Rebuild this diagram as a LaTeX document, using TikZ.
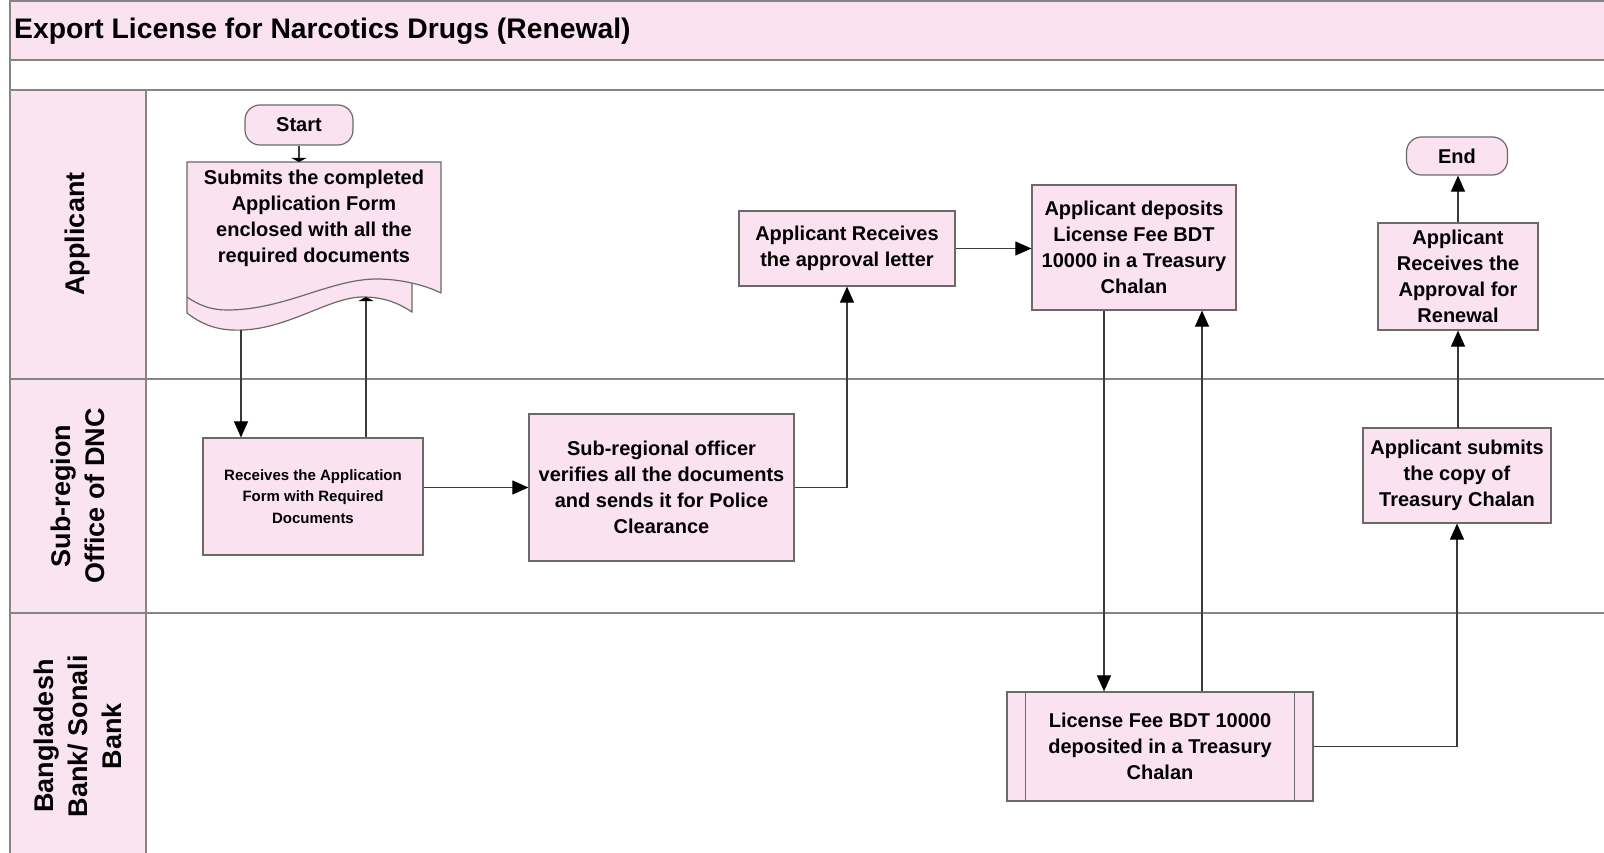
\documentclass[tikz,border=0pt]{standalone}
\usepackage{fontspec}
\setmainfont{Liberation Sans}
\usetikzlibrary{arrows.meta,calc}
\definecolor{pinkfill}{HTML}{FAE2F1}
\definecolor{lanepink}{HTML}{FBE4F2}
\definecolor{laneline}{HTML}{858585}
\definecolor{boxline}{HTML}{6A6A6A}
\definecolor{conn}{HTML}{3A3A3A}
\newcommand{\bxfont}{\fontsize{20}{26}\selectfont\bfseries}
\newcommand{\lnfont}{\fontsize{27}{34}\selectfont\bfseries}
\newcommand{\ttlfont}{\fontsize{28.3}{32}\selectfont\bfseries}
\begin{document}
\begin{tikzpicture}[x=1pt,y=-1pt,
  box/.style={draw=boxline,fill=pinkfill,line width=1.2pt,inner sep=0pt,align=center,font=\bxfont},
  term/.style={box,rounded corners=15pt},
  lanelabel/.style={rotate=90,align=center,font=\lnfont,inner sep=0pt},
  lane/.style={draw=laneline,line width=1.6pt},
  arr/.style={draw=conn,line width=1.1pt,-{Triangle[length=16pt,width=14pt,color=black]}},
  flatarr/.style={draw=conn,line width=1.1pt,-{Triangle[length=4pt,width=15pt,color=black]}},
  plain/.style={draw=conn,line width=1.1pt}]
\useasboundingbox (0,0) rectangle (1604,853);
% pool and lanes
\fill[pinkfill] (10,1) rectangle (1604,60);
\fill[lanepink] (10,90) rectangle (146,853);
\draw[lane] (1604,1) -- (10,1) -- (10,853);
\draw[lane] (10,60) -- (1604,60);
\draw[lane] (10,90) -- (1604,90);
\draw[lane] (10,379) -- (1604,379);
\draw[lane] (10,613) -- (1604,613);
\draw[lane] (146,90) -- (146,853);
\node[anchor=west,font=\ttlfont,inner sep=0pt] (title) at (14,31) {Export License for Narcotics Drugs (Renewal)};
\node[lanelabel] (lane1) at (78,234) {Applicant};
\node[lanelabel] (lane2) at (78,496) {Sub-region\\Office of DNC};
\node[lanelabel] (lane3) at (78,736) {Bangladesh\\Bank/ Sonali\\Bank};
% document shape
\fill[pinkfill] (187,162) -- (441,162) -- (441,293)
  .. controls (425,285) and (400,279) .. (377,279)
  .. controls (330,279) and (285,310) .. (227,310)
  .. controls (212,310) and (200,306) .. (187,297) -- cycle;
\fill[pinkfill] (187,290) -- (187,313)
  .. controls (205,327) and (222,331) .. (243,330)
  .. controls (290,328) and (330,297) .. (363,297)
  .. controls (385,297) and (400,304) .. (412,312)
  -- (412,270) -- (300,270) -- cycle;
\draw[draw=boxline,line width=1.2pt] (441,293) -- (441,162) -- (187,162) -- (187,313)
  .. controls (205,327) and (222,331) .. (243,330)
  .. controls (290,328) and (330,297) .. (363,297)
  .. controls (385,297) and (400,304) .. (412,312) -- (412,283);
\draw[draw=boxline,line width=1.2pt] (187,297)
  .. controls (200,306) and (212,310) .. (227,310)
  .. controls (285,310) and (330,279) .. (377,279)
  .. controls (400,279) and (425,285) .. (441,293);
\node[font=\bxfont,align=center,inner sep=0pt] (doc) at (314,218)
  {Submits the completed\\Application Form\\enclosed with all the\\required documents};
\coordinate (doctop) at (299,162);
\coordinate (docout) at (241,330);
\coordinate (docin) at (366,297);
% nodes
\node[term,minimum width=108pt,minimum height=40pt] (start) at (299,125) {Start};
\node[term,minimum width=101pt,minimum height=38pt] (end) at (1457,156) {End};
\node[box,minimum width=220pt,minimum height=117pt,font=\fontsize{15}{21.5}\selectfont\bfseries] (recv) at (313,496.5) {Receives the Application\\Form with Required\\Documents};
\node[box,minimum width=265pt,minimum height=147pt] (subreg) at (661.5,487.5) {Sub-regional officer\\verifies all the documents\\and sends it for Police\\Clearance};
\node[box,minimum width=216pt,minimum height=75pt] (letter) at (847,248.5) {Applicant Receives\\the approval letter};
\node[box,minimum width=204pt,minimum height=125pt] (deposit) at (1134,247.5) {Applicant deposits\\License Fee BDT\\10000 in a Treasury\\Chalan};
\node[box,minimum width=306pt,minimum height=109pt] (fee) at (1160,746.5) {License Fee BDT 10000\\deposited in a Treasury\\Chalan};
\draw[draw=boxline,line width=1.2pt] ([xshift=19pt]fee.north west) -- ([xshift=19pt]fee.south west)
  ([xshift=-19pt]fee.north east) -- ([xshift=-19pt]fee.south east);
\node[box,minimum width=188pt,minimum height=95pt] (submits) at (1457,475.5) {Applicant submits\\the copy of\\Treasury Chalan};
\node[box,minimum width=160pt,minimum height=107pt] (approval) at (1458,276.5) {Applicant\\Receives the\\Approval for\\Renewal};
% connectors
\draw[flatarr] (start.south) -- (start.south |- doctop);
\draw[arr] (docout) -- (docout |- recv.north);
\draw[flatarr] (docin |- recv.north) -- (docin);
\draw[arr] (recv.east |- subreg.west) -- (subreg.west);
\draw[arr] (subreg.east) -| (letter.south);
\draw[arr] (letter.east) -- (letter.east -| deposit.west);
\draw[arr] ([xshift=-30pt]deposit.south) -- ([xshift=-30pt]deposit.south |- fee.north);
\draw[arr] ([xshift=42pt]fee.north) -- ([xshift=42pt]fee.north |- deposit.south);
\draw[arr] (fee.east) -| (submits.south);
\draw[arr] (submits.north) -- (submits.north -| approval.south) -- (approval.south);
\draw[arr] (approval.north) -- (approval.north |- end.south);
\end{tikzpicture}
\end{document}
